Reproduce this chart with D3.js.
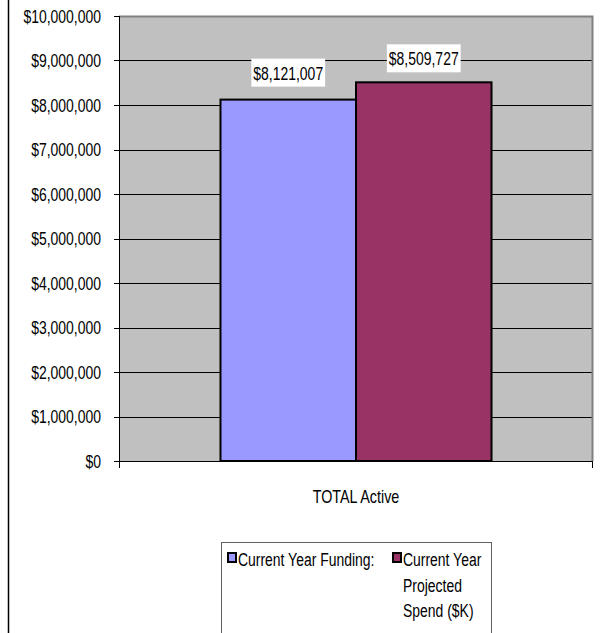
<!DOCTYPE html>
<html>
<head>
<meta charset="utf-8">
<script src="https://cdn.jsdelivr.net/npm/d3@7"></script>
<style>
  html, body { margin: 0; padding: 0; background: #fff; }
  svg { display: block; }
  text { font-family: "Liberation Sans", Arial, sans-serif; fill: #000; }
</style>
</head>
<body>
<svg id="chart" width="602" height="633"></svg>
<script>
// Funding vs projected spend for the active total
const categories = ["TOTAL Active"];
const seriesNames = ["Current Year Funding:", "Current Year Projected Spend ($K)"];
const seriesValues = [8121007, 8509727];
const seriesColors = ["#9999FF", "#993366"];
const yTicks = [0, 1000000, 2000000, 3000000, 4000000, 5000000, 6000000, 7000000, 8000000, 9000000, 10000000];
const legendLines = [["Current Year Funding:"], ["Current Year", "Projected", "Spend ($K)"]];

const svg = d3.select("#chart");
const plot = { left: 119, right: 593, top: 16, bottom: 461 };
const fmt = v => "$" + d3.format(",")(v);
const NARROW = 0.775;

// condensed text: a regular sans face squeezed horizontally
function narrowText(parent, x, y, str, size, anchor) {
  const g = parent.append("g").attr("transform", `translate(${x},${y}) scale(${NARROW},1)`);
  g.append("text")
    .attr("x", 0).attr("y", 0)
    .attr("font-size", size)
    .attr("text-anchor", anchor || "start")
    .text(str);
  return g;
}

// frame line at the far left
svg.append("line")
  .attr("x1", 8.5).attr("x2", 8.5).attr("y1", 0).attr("y2", 633)
  .attr("stroke", "#000").attr("stroke-width", 1.5);

const y = d3.scaleLinear().domain([0, 10000000]).range([plot.bottom, plot.top]);
const x0 = d3.scaleBand().domain(categories).range([plot.left, plot.right]).paddingInner(0).paddingOuter(0.3745);
const x1 = d3.scaleBand().domain(d3.range(seriesValues.length)).range([0, x0.bandwidth()]);

// plot background
svg.append("rect")
  .attr("x", plot.left).attr("y", plot.top)
  .attr("width", plot.right - plot.left).attr("height", plot.bottom - plot.top)
  .attr("fill", "#C0C0C0");

// gridlines
svg.append("g").selectAll("line")
  .data(yTicks.filter(d => d > 0 && d < 10000000))
  .join("line")
  .attr("x1", plot.left).attr("x2", plot.right)
  .attr("y1", d => Math.round(y(d)) + 0.5).attr("y2", d => Math.round(y(d)) + 0.5)
  .attr("stroke", "#000").attr("stroke-width", 1);

// grey border on top and right
svg.append("path")
  .attr("d", `M${plot.left},${plot.top + 0.5}H${plot.right - 0.5}V${plot.bottom}`)
  .attr("fill", "none").attr("stroke", "#808080").attr("stroke-width", 2);

// bars
const bars = svg.append("g");
categories.forEach(cat => {
  seriesValues.forEach((v, i) => {
    bars.append("rect")
      .attr("x", x0(cat) + x1(i))
      .attr("y", y(v))
      .attr("width", x1.bandwidth())
      .attr("height", y(0) - y(v))
      .attr("fill", seriesColors[i])
      .attr("stroke", "#000").attr("stroke-width", 2);
  });
});

// value labels with white backgrounds
const labelOffsets = [13, 10];
seriesValues.forEach((v, i) => {
  const cx = x0(categories[0]) + x1(i) + x1.bandwidth() / 2;
  const g = svg.append("g");
  const bg = g.append("rect").attr("fill", "#fff");
  const t = narrowText(g, cx, y(v) - labelOffsets[i] - 7, fmt(v), 18, "middle");
  const w = t.select("text").node().getComputedTextLength() * NARROW;
  bg.attr("x", cx - w / 2 - 2).attr("y", y(v) - labelOffsets[i] - 28)
    .attr("width", w + 4).attr("height", 28);
});

// y axis
const yAxis = svg.append("g");
yAxis.selectAll("line.tick").data(yTicks).join("line")
  .attr("class", "tick")
  .attr("x1", plot.left - 5).attr("x2", plot.left)
  .attr("y1", d => Math.round(y(d)) + 0.5).attr("y2", d => Math.round(y(d)) + 0.5)
  .attr("stroke", "#000");
yTicks.forEach(d => narrowText(yAxis, 101, y(d) + 6.5, fmt(d), 18, "end"));

svg.append("line")
  .attr("x1", plot.left + 0.5).attr("x2", plot.left + 0.5)
  .attr("y1", plot.top).attr("y2", plot.bottom + 7)
  .attr("stroke", "#000");

// x axis
const xa = svg.append("g");
xa.append("line")
  .attr("x1", plot.left).attr("x2", plot.right)
  .attr("y1", plot.bottom + 0.5).attr("y2", plot.bottom + 0.5)
  .attr("stroke", "#000");
xa.append("line")
  .attr("x1", plot.right - 0.5).attr("x2", plot.right - 0.5)
  .attr("y1", plot.bottom).attr("y2", plot.bottom + 7)
  .attr("stroke", "#000");
categories.forEach(d => narrowText(xa, x0(d) + x0.bandwidth() / 2, 503, d, 18.5, "middle"));

// legend
const legend = svg.append("g");
legend.append("rect")
  .attr("x", 221.5).attr("y", 542.5).attr("width", 270).attr("height", 100)
  .attr("fill", "#fff").attr("stroke", "#606060").attr("stroke-width", 1);
const legendX = [227, 392];
seriesNames.forEach((name, i) => {
  legend.append("rect")
    .attr("x", legendX[i] + 1).attr("y", 553)
    .attr("width", 8).attr("height", 9)
    .attr("fill", seriesColors[i]).attr("stroke", "#000").attr("stroke-width", 2);
  legendLines[i].forEach((line, j) => {
    narrowText(legend, legendX[i] + 11, 566 + j * 25.5, line, 18, "start");
  });
});
</script>
</body>
</html>
